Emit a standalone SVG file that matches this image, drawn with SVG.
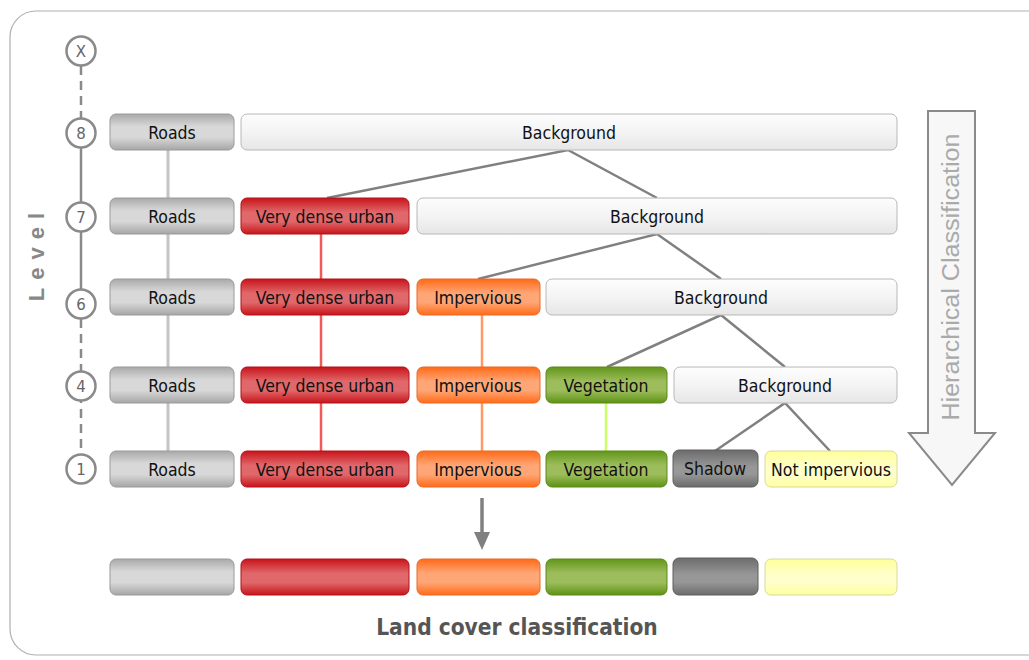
<svg xmlns="http://www.w3.org/2000/svg" width="1029" height="660" viewBox="0 0 1029 660">
<defs>
<linearGradient id="gRoad" x1="0" y1="0" x2="0" y2="1"><stop offset="0" stop-color="#a9a9a9"/><stop offset="0.35" stop-color="#d8d8d8"/><stop offset="0.65" stop-color="#d8d8d8"/><stop offset="1" stop-color="#a6a6a6"/></linearGradient>
<linearGradient id="gBg" x1="0" y1="0" x2="0" y2="1"><stop offset="0" stop-color="#fdfdfd"/><stop offset="0.5" stop-color="#f4f4f4"/><stop offset="1" stop-color="#e6e6e6"/></linearGradient>
<linearGradient id="gRed" x1="0" y1="0" x2="0" y2="1"><stop offset="0" stop-color="#c8141a"/><stop offset="0.4" stop-color="#e0686b"/><stop offset="0.65" stop-color="#e0686b"/><stop offset="1" stop-color="#c8141a"/></linearGradient>
<linearGradient id="gOr" x1="0" y1="0" x2="0" y2="1"><stop offset="0" stop-color="#ff6a18"/><stop offset="0.4" stop-color="#ffa676"/><stop offset="0.65" stop-color="#ffa676"/><stop offset="1" stop-color="#ff6a18"/></linearGradient>
<linearGradient id="gGr" x1="0" y1="0" x2="0" y2="1"><stop offset="0" stop-color="#62961a"/><stop offset="0.4" stop-color="#9dbd5c"/><stop offset="0.65" stop-color="#9dbd5c"/><stop offset="1" stop-color="#5e9214"/></linearGradient>
<linearGradient id="gSh" x1="0" y1="0" x2="0" y2="1"><stop offset="0" stop-color="#6c6c6c"/><stop offset="0.45" stop-color="#979797"/><stop offset="0.65" stop-color="#979797"/><stop offset="1" stop-color="#6c6c6c"/></linearGradient>
<linearGradient id="gYe" x1="0" y1="0" x2="0" y2="1"><stop offset="0" stop-color="#ffff99"/><stop offset="0.45" stop-color="#ffffcc"/><stop offset="0.65" stop-color="#ffffcc"/><stop offset="1" stop-color="#ffff9e"/></linearGradient>
</defs>
<style>
.box{stroke-width:1}
.road{fill:url(#gRoad);stroke:#9a9a9a}
.bg{fill:url(#gBg);stroke:#b8b8b8}
.red{fill:url(#gRed);stroke:#b01218}
.or{fill:url(#gOr);stroke:#e86a2a}
.gr{fill:url(#gGr);stroke:#5a8a18}
.sh{fill:url(#gSh);stroke:#5e5e5e}
.ye{fill:url(#gYe);stroke:#d8d8a0}
.t{font-family:"DejaVu Sans Condensed","DejaVu Sans",sans-serif;font-size:17.5px;fill:#111;text-anchor:middle}
.lv circle{fill:#fff;stroke:#8a8a8a;stroke-width:2.5}
.lv text{font-family:"DejaVu Sans","Liberation Sans",sans-serif;font-size:15px;fill:#666;text-anchor:middle}
.tree{stroke:#808080;stroke-width:2.5;fill:none}
</style>
<rect x="10" y="11" width="1045" height="644" rx="26" fill="#fff" stroke="#b0b0b0" stroke-width="1.2"/>

<g id="level-axis">
<line x1="81" y1="66" x2="81" y2="118" stroke="#8a8a8a" stroke-width="2.5" stroke-dasharray="9,6"/>
<line x1="81" y1="148" x2="81" y2="289" stroke="#8a8a8a" stroke-width="2.5"/>
<line x1="81" y1="319" x2="81" y2="454" stroke="#8a8a8a" stroke-width="2.5" stroke-dasharray="9,6"/>
<text x="36" y="253" transform="rotate(-90 36 253)" font-family="'Liberation Sans',Arial,sans-serif" font-weight="bold" font-size="22" fill="#888" text-anchor="middle" letter-spacing="8" dominant-baseline="central">Level</text>
</g>
<g id="lvX" class="lv"><circle cx="81" cy="51" r="14.5"/><text x="81" y="56.5">X</text></g>
<g id="lv8" class="lv"><circle cx="81" cy="133" r="14.5"/><text x="81" y="138.5">8</text></g>
<g id="lv7" class="lv"><circle cx="81" cy="217" r="14.5"/><text x="81" y="222.5">7</text></g>
<g id="lv6" class="lv"><circle cx="81" cy="304" r="14.5"/><text x="81" y="309.5">6</text></g>
<g id="lv4" class="lv"><circle cx="81" cy="386" r="14.5"/><text x="81" y="391.5">4</text></g>
<g id="lv1" class="lv"><circle cx="81" cy="469" r="14.5"/><text x="81" y="474.5">1</text></g>

<g id="connectors">
<line x1="168" y1="150" x2="168" y2="451" stroke="#c4c4c4" stroke-width="3"/>
<line x1="321" y1="234" x2="321" y2="451" stroke="#f25a5a" stroke-width="2.5"/>
<line x1="482" y1="315" x2="482" y2="451" stroke="#ff9a66" stroke-width="2.5"/>
<line x1="606" y1="403" x2="606" y2="451" stroke="#ccff66" stroke-width="2.5"/>
<polyline class="tree" points="327,198 568,150 657,198"/>
<polyline class="tree" points="478,279 657,234 721,279"/>
<polyline class="tree" points="607,367 721,315 785,367"/>
<polyline class="tree" points="715,451 785,403 830,451"/>
<line x1="482" y1="498" x2="482" y2="534" stroke="#808080" stroke-width="3.5"/>
<polygon points="474,532 490,532 482,550" fill="#808080"/>
</g>

<g id="row8">
<g id="r8-roads"><rect class="box road" x="110" y="114" width="124" height="36" rx="6"/><text class="t" x="172" y="138.5">Roads</text></g>
<g id="r8-bg"><rect class="box bg" x="241" y="114" width="656" height="36" rx="6"/><text class="t" x="569" y="138.5">Background</text></g>
</g>
<g id="row7">
<g id="r7-roads"><rect class="box road" x="110" y="198" width="124" height="36" rx="6"/><text class="t" x="172" y="222.5">Roads</text></g>
<g id="r7-vdu"><rect class="box red" x="241" y="198" width="168" height="36" rx="6"/><text class="t" x="325" y="222.5">Very dense urban</text></g>
<g id="r7-bg"><rect class="box bg" x="417" y="198" width="480" height="36" rx="6"/><text class="t" x="657" y="222.5">Background</text></g>
</g>
<g id="row6">
<g id="r6-roads"><rect class="box road" x="110" y="279" width="124" height="36" rx="6"/><text class="t" x="172" y="303.5">Roads</text></g>
<g id="r6-vdu"><rect class="box red" x="241" y="279" width="168" height="36" rx="6"/><text class="t" x="325" y="303.5">Very dense urban</text></g>
<g id="r6-imp"><rect class="box or" x="417" y="279" width="123" height="36" rx="6"/><text class="t" x="478" y="303.5">Impervious</text></g>
<g id="r6-bg"><rect class="box bg" x="546" y="279" width="351" height="36" rx="6"/><text class="t" x="721" y="303.5">Background</text></g>
</g>
<g id="row4">
<g id="r4-roads"><rect class="box road" x="110" y="367" width="124" height="36" rx="6"/><text class="t" x="172" y="391.5">Roads</text></g>
<g id="r4-vdu"><rect class="box red" x="241" y="367" width="168" height="36" rx="6"/><text class="t" x="325" y="391.5">Very dense urban</text></g>
<g id="r4-imp"><rect class="box or" x="417" y="367" width="123" height="36" rx="6"/><text class="t" x="478" y="391.5">Impervious</text></g>
<g id="r4-veg"><rect class="box gr" x="546" y="367" width="121" height="36" rx="6"/><text class="t" x="606" y="391.5">Vegetation</text></g>
<g id="r4-bg"><rect class="box bg" x="674" y="367" width="223" height="36" rx="6"/><text class="t" x="785" y="391.5">Background</text></g>
</g>
<g id="row1">
<g id="r1-roads"><rect class="box road" x="110" y="451" width="124" height="36" rx="6"/><text class="t" x="172" y="475.5">Roads</text></g>
<g id="r1-vdu"><rect class="box red" x="241" y="451" width="168" height="36" rx="6"/><text class="t" x="325" y="475.5">Very dense urban</text></g>
<g id="r1-imp"><rect class="box or" x="417" y="451" width="123" height="36" rx="6"/><text class="t" x="478" y="475.5">Impervious</text></g>
<g id="r1-veg"><rect class="box gr" x="546" y="451" width="121" height="36" rx="6"/><text class="t" x="606" y="475.5">Vegetation</text></g>
<g id="r1-sh"><rect class="box sh" x="673" y="450" width="85" height="37" rx="6"/><text class="t" x="715" y="474.5">Shadow</text></g>
<g id="r1-ni"><rect class="box ye" x="765" y="451" width="132" height="36" rx="6"/><text class="t" x="831" y="475.5">Not impervious</text></g>
</g>
<g id="result">
<rect class="box road" x="110" y="559" width="124" height="36" rx="6"/>
<rect class="box red" x="241" y="559" width="168" height="36" rx="6"/>
<rect class="box or" x="417" y="559" width="123" height="36" rx="6"/>
<rect class="box gr" x="546" y="559" width="121" height="36" rx="6"/>
<rect class="box sh" x="673" y="558" width="85" height="37" rx="6"/>
<rect class="box ye" x="765" y="559" width="132" height="36" rx="6"/>
<text x="517" y="635" font-family="'DejaVu Sans Condensed','DejaVu Sans',sans-serif" font-weight="bold" font-size="22.5" fill="#555" text-anchor="middle">Land cover classification</text>
</g>
<g id="hier-arrow">
<path d="M928,111 L975,111 L975,433 L995,433 L952,485 L909,433 L928,433 Z" fill="#f7f7f7" stroke="#8a8a8a" stroke-width="2"/>
<text x="951" y="277" transform="rotate(-90 951 277)" font-family="'Liberation Sans',Arial,sans-serif" font-size="23" fill="#aaa" text-anchor="middle" dominant-baseline="central" textLength="287" lengthAdjust="spacingAndGlyphs">Hierarchical Classification</text>
</g>
</svg>
